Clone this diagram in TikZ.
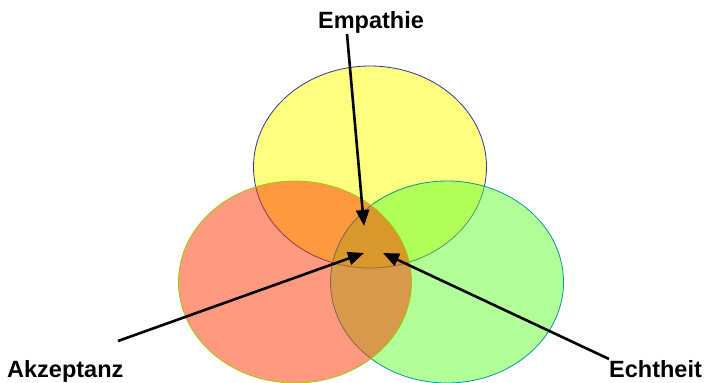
\documentclass[tikz,border=0pt]{standalone}
\usepackage{fontspec}
\setmainfont{Liberation Sans}
\usetikzlibrary{shapes.geometric,arrows.meta}
\definecolor{cyel}{HTML}{FFFF00}
\definecolor{cgrn}{HTML}{66FF33}
\definecolor{cred}{HTML}{FF3300}
\definecolor{oyel}{HTML}{333399}
\definecolor{ogrn}{HTML}{009999}
\definecolor{ored}{HTML}{99CC00}
\tikzset{
  circ/.style={ellipse, minimum width=233pt, minimum height=202pt, inner sep=0pt, fill opacity=0.5, line width=0.8pt},
  lbl/.style={font=\fontsize{23.5}{27}\selectfont\bfseries, inner sep=0pt},
  pointer/.style={line width=2.6pt, -{Triangle[length=16pt,width=13pt]}}
}
\begin{document}
\begin{tikzpicture}[x=1pt,y=-1pt]
\useasboundingbox (0,0) rectangle (705,383);
\node[circ, draw=oyel, fill=cyel] (yel) at (370,167) {};
\node[circ, draw=ogrn, fill=cgrn] (grn) at (447,282) {};
\node[circ, draw=ored, fill=cred] (red) at (295,282) {};
\node[lbl, anchor=base] (emp) at (371,28) {Empathie};
\node[lbl, anchor=base west] (akz) at (7,377) {Akzeptanz};
\node[lbl, anchor=base west] (ech) at (609,377) {Echtheit};
\coordinate (empS) at (347,34);
\coordinate (empT) at (364,226);
\coordinate (akzS) at (118,341);
\coordinate (akzT) at (364,253);
\coordinate (echS) at (609,359);
\coordinate (echT) at (383,253);
\draw[pointer] (empS) -- (empT);
\draw[pointer] (akzS) -- (akzT);
\draw[pointer] (echS) -- (echT);
\end{tikzpicture}
\end{document}
